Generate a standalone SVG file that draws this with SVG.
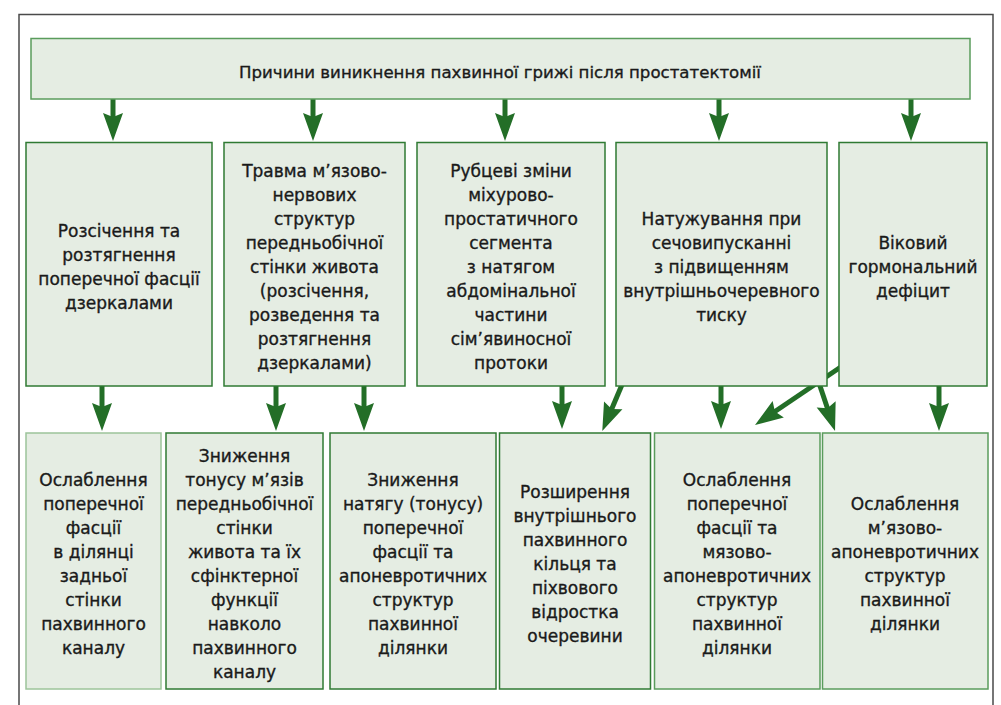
<svg xmlns="http://www.w3.org/2000/svg" width="1001" height="705" viewBox="0 0 1001 705">
<defs>
<style>
.frame{fill:none;stroke:#4a4a4a;stroke-width:1.5}
.box{fill:#e5ede3;stroke:#2f7a33;stroke-width:1.5}
.boxl{fill:#e5ede3;stroke:#9cc49a;stroke-width:1.5}
.boxm{fill:#e5ede3;stroke:#5a9c5c;stroke-width:1.5}
text{font-family:"DejaVu Sans","Noto Sans",sans-serif;font-size:17px;fill:#1a1a1a;stroke:#1a1a1a;stroke-width:0.35;text-anchor:middle}
.title{font-size:16.6px}
.arr{fill:none;stroke:#236e27;stroke-width:5;marker-end:url(#ah)}
</style>
<marker id="ah" viewBox="-10 -11 32 22" refX="0" refY="0" markerWidth="32" markerHeight="22" orient="auto" markerUnits="userSpaceOnUse">
<path d="M20,0 L-8,-10 L-4,0 L-8,10 Z" fill="#236e27"/>
</marker>
</defs>
<rect width="1001" height="705" fill="#ffffff"/>
<path class="frame" d="M19,705 V14.5 H993 V705"/>

<g id="connectors">
<line class="arr" x1="113" y1="99" x2="113" y2="121"/>
<line class="arr" x1="313" y1="99" x2="313" y2="121"/>
<line class="arr" x1="505" y1="99" x2="505" y2="121"/>
<line class="arr" x1="719" y1="99" x2="719" y2="121"/>
<line class="arr" x1="911" y1="99" x2="911" y2="121"/>
<line class="arr" x1="102" y1="386" x2="102" y2="411"/>
<line class="arr" x1="276" y1="386" x2="276" y2="411"/>
<line class="arr" x1="364" y1="386" x2="364" y2="411"/>
<line class="arr" x1="562" y1="386" x2="562" y2="409"/>
<line class="arr" x1="624" y1="380" x2="610.1" y2="412.7"/>
<line class="arr" x1="721" y1="386" x2="721" y2="409"/>
<line class="arr" x1="870" y1="347.3" x2="771.6" y2="413.8"/>
<line class="arr" x1="818" y1="380" x2="828.7" y2="412"/>
<line class="arr" x1="939" y1="386" x2="939" y2="411"/>
</g>

<g id="top">
<rect class="boxm" x="31" y="38.5" width="939" height="60.5"/>
<text class="title" x="500" y="78">Причини виникнення пахвинної грижі після простатектомії</text>
</g>

<g id="m1">
<rect class="box" x="26" y="142.5" width="186" height="243.5"/>
<text x="119" y="237">Розсічення та</text>
<text x="119" y="261">розтягнення</text>
<text x="119" y="285">поперечної фасції</text>
<text x="119" y="309">дзеркалами</text>
</g>

<g id="m2">
<rect class="box" x="224" y="142.5" width="181" height="243.5"/>
<text x="314.5" y="177">Травма м’язово-</text>
<text x="314.5" y="201">нервових</text>
<text x="314.5" y="225">структур</text>
<text x="314.5" y="249">передньобічної</text>
<text x="314.5" y="273">стінки живота</text>
<text x="314.5" y="297">(розсічення,</text>
<text x="314.5" y="321">розведення та</text>
<text x="314.5" y="345">розтягнення</text>
<text x="314.5" y="369">дзеркалами)</text>
</g>

<g id="m3">
<rect class="box" x="417" y="142.5" width="188" height="243.5"/>
<text x="511" y="177">Рубцеві зміни</text>
<text x="511" y="201">міхурово-</text>
<text x="511" y="225">простатичного</text>
<text x="511" y="249">сегмента</text>
<text x="511" y="273">з натягом</text>
<text x="511" y="297">абдомінальної</text>
<text x="511" y="321">частини</text>
<text x="511" y="345">сім’явиносної</text>
<text x="511" y="369">протоки</text>
</g>

<g id="m4">
<rect class="box" x="616" y="142.5" width="211" height="243.5"/>
<text x="721.5" y="225">Натужування при</text>
<text x="721.5" y="249">сечовипусканні</text>
<text x="721.5" y="273">з підвищенням</text>
<text x="721.5" y="297">внутрішньочеревного</text>
<text x="721.5" y="321">тиску</text>
</g>

<g id="m5">
<rect class="box" x="839" y="142.5" width="148" height="243.5"/>
<text x="913" y="249">Віковий</text>
<text x="913" y="273">гормональний</text>
<text x="913" y="297">дефіцит</text>
</g>

<g id="b1">
<rect class="boxl" x="26" y="433" width="135" height="256"/>
<text x="93.5" y="486">Ослаблення</text>
<text x="93.5" y="510">поперечної</text>
<text x="93.5" y="534">фасції</text>
<text x="93.5" y="558">в ділянці</text>
<text x="93.5" y="582">задньої</text>
<text x="93.5" y="606">стінки</text>
<text x="93.5" y="630">пахвинного</text>
<text x="93.5" y="654">каналу</text>
</g>

<g id="b2">
<rect class="box" x="166" y="433" width="157" height="256"/>
<text x="244.5" y="462">Зниження</text>
<text x="244.5" y="486">тонусу м’язів</text>
<text x="244.5" y="510">передньобічної</text>
<text x="244.5" y="534">стінки</text>
<text x="244.5" y="558">живота та їх</text>
<text x="244.5" y="582">сфінктерної</text>
<text x="244.5" y="606">функції</text>
<text x="244.5" y="630">навколо</text>
<text x="244.5" y="654">пахвинного</text>
<text x="244.5" y="678">каналу</text>
</g>

<g id="b3">
<rect class="box" x="330" y="433" width="166" height="256"/>
<text x="413" y="486">Зниження</text>
<text x="413" y="510">натягу (тонусу)</text>
<text x="413" y="534">поперечної</text>
<text x="413" y="558">фасції та</text>
<text x="413" y="582">апоневротичних</text>
<text x="413" y="606">структур</text>
<text x="413" y="630">пахвинної</text>
<text x="413" y="654">ділянки</text>
</g>

<g id="b4">
<rect class="box" x="499.5" y="433" width="151" height="256"/>
<text x="575" y="498">Розширення</text>
<text x="575" y="522">внутрішнього</text>
<text x="575" y="546">пахвинного</text>
<text x="575" y="570">кільця та</text>
<text x="575" y="594">піхвового</text>
<text x="575" y="618">відростка</text>
<text x="575" y="642">очеревини</text>
</g>

<g id="b5">
<rect class="boxm" x="654.5" y="433" width="165.5" height="256"/>
<text x="737" y="486">Ослаблення</text>
<text x="737" y="510">поперечної</text>
<text x="737" y="534">фасції та</text>
<text x="737" y="558">мязово-</text>
<text x="737" y="582">апоневротичних</text>
<text x="737" y="606">структур</text>
<text x="737" y="630">пахвинної</text>
<text x="737" y="654">ділянки</text>
</g>

<g id="b6">
<rect class="boxm" x="822.5" y="433" width="165.5" height="256"/>
<text x="905" y="510">Ослаблення</text>
<text x="905" y="534">м’язово-</text>
<text x="905" y="558">апоневротичних</text>
<text x="905" y="582">структур</text>
<text x="905" y="606">пахвинної</text>
<text x="905" y="630">ділянки</text>
</g>
</svg>
